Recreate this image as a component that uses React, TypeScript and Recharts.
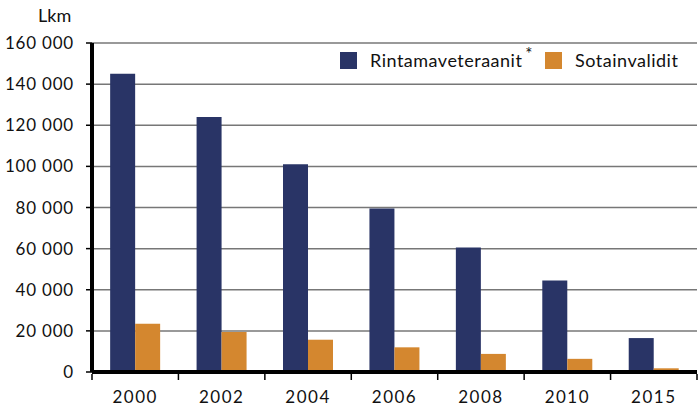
import { BarChart, Bar, XAxis, YAxis, CartesianGrid, Legend } from 'recharts';

// Data
const years = ['2000', '2002', '2004', '2006', '2008', '2010', '2015'];
const veterans = [145000, 124000, 101000, 79500, 60500, 44500, 16500];
const invalids = [23500, 19500, 15700, 12000, 8800, 6400, 1800];
const seriesNames = ['Rintamaveteraanit*', 'Sotainvalidit'];
const yTicks = [0, 20000, 40000, 60000, 80000, 100000, 120000, 140000, 160000];

const data = years.map((year, i) => ({
  year,
  veterans: veterans[i],
  invalids: invalids[i],
}));

const FONT = 'Lato, "Open Sans", sans-serif';
const WIDTH = 700;
const HEIGHT = 408;
const LEFT = 92;
const RIGHT = 3;
const BAND = (WIDTH - LEFT - RIGHT) / years.length;

const formatThousands = (v: number) =>
  v.toString().replace(/\B(?=(\d{3})+(?!\d))/g, ' ');

function YearTick(props: any) {
  const { x, y, payload, index } = props;
  const last = index === years.length - 1;
  return (
    <g>
      <line x1={x - BAND / 2} y1={y + 2} x2={x - BAND / 2} y2={y + 8} stroke="#000" strokeWidth={1.5} />
      {last && (
        <line x1={x + BAND / 2} y1={y + 2} x2={x + BAND / 2} y2={y + 8} stroke="#000" strokeWidth={1.5} />
      )}
      <text x={x} y={y + 31} textAnchor="middle" fontSize={17} letterSpacing={1.5} fill="#111" fontFamily={FONT}>
        {payload.value}
      </text>
    </g>
  );
}

function LegendContent(props: any) {
  const { payload } = props;
  return (
    <div style={{ display: 'flex', alignItems: 'center', fontFamily: FONT, fontSize: 18, letterSpacing: 0.5, color: '#111' }}>
      {payload.map((item: any) => {
        const name: string = item.value;
        const star = name.endsWith('*');
        return (
          <div key={name} style={{ display: 'flex', alignItems: 'center', marginRight: 12 }}>
            <span style={{ display: 'inline-block', width: 17, height: 17, background: item.color, marginRight: 13 }} />
            <span>{star ? name.slice(0, -1) : name}</span>
            {star && <span style={{ fontSize: 17, position: 'relative', top: -7, marginLeft: 3 }}>*</span>}
          </div>
        );
      })}
    </div>
  );
}

export default function App() {
  return (
    <div style={{ position: 'relative', width: WIDTH, height: HEIGHT, background: '#fff' }}>
      <style>{'body{margin:0}'}</style>
      <div style={{ position: 'absolute', left: 38, top: 4, fontFamily: FONT, fontSize: 18, color: '#111' }}>
        Lkm
      </div>
      <BarChart
        width={WIDTH}
        height={HEIGHT}
        data={data}
        margin={{ top: 43, right: RIGHT, bottom: 0, left: 0 }}
        barCategoryGap="21%"
        barGap={0}
      >
        <CartesianGrid vertical={false} stroke="#777" strokeWidth={1.5} />
        <XAxis
          dataKey="year"
          height={36}
          axisLine={{ stroke: '#000', strokeWidth: 4 }}
          tickLine={false}
          tickSize={0}
          tickMargin={0}
          interval={0}
          tick={<YearTick />}
        />
        <XAxis xAxisId="top" dataKey="year" orientation="top" height={0} tick={false} tickLine={false} axisLine={{ stroke: '#333', strokeWidth: 1.5 }} />
        <YAxis
          width={LEFT}
          domain={[0, 160000]}
          ticks={yTicks}
          interval={0}
          tickFormatter={formatThousands}
          axisLine={{ stroke: '#000', strokeWidth: 4 }}
          tickLine={{ stroke: '#000', strokeWidth: 1.5 }}
          tickSize={6}
          tickMargin={12}
          tick={{ fontSize: 17, fill: '#111', fontFamily: FONT, letterSpacing: 0.8 }}
        />
        <YAxis yAxisId="right" orientation="right" width={0} tick={false} tickLine={false} axisLine={{ stroke: '#333', strokeWidth: 1.5 }} />
        <Legend
          layout="horizontal"
          verticalAlign="middle"
          align="center"
          wrapperStyle={{ top: 49, left: 340, width: 360 }}
          content={<LegendContent />}
        />
        <Bar dataKey="veterans" name={seriesNames[0]} fill="#293466" isAnimationActive={false} />
        <Bar dataKey="invalids" name={seriesNames[1]} fill="#D4872F" isAnimationActive={false} />
      </BarChart>
    </div>
  );
}
